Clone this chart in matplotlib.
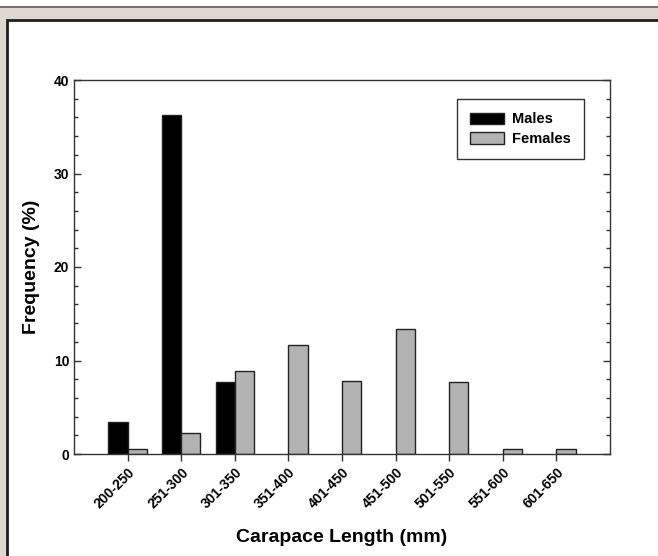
import numpy as np
import matplotlib.pyplot as plt
from matplotlib.patches import Rectangle
from matplotlib.ticker import MultipleLocator

plt.rcParams['font.family'] = ['Liberation Sans', 'DejaVu Sans']
plt.rcParams['font.weight'] = 'bold'

categories = ['200-250', '251-300', '301-350', '351-400', '401-450',
              '451-500', '501-550', '551-600', '601-650']
males = [3.4, 36.3, 7.7, 0, 0, 0, 0, 0, 0]
females = [0.5, 2.2, 8.9, 11.7, 7.8, 13.4, 7.7, 0.5, 0.5]

W, H = 658, 556
fig = plt.figure(figsize=(W / 100, H / 100), dpi=100)
fig.patch.set_facecolor('#ded7cf')

# khung nen phia sau
fig.add_artist(Rectangle((0, 1 - 6 / H), 1, 6 / H, transform=fig.transFigure,
                         facecolor='white', edgecolor='none', zorder=-3))
fig.add_artist(Rectangle((0, 1 - 8 / H), 1, 2 / H, transform=fig.transFigure,
                         facecolor='#7b7064', edgecolor='none', zorder=-3))
fig.add_artist(Rectangle((7 / W, -0.05), 1.1, 1.05 - 20 / H, transform=fig.transFigure,
                         facecolor='white', edgecolor='#1e1e1e', linewidth=2, zorder=-2))

ax = fig.add_axes([74 / W, 1 - 454 / H, (610 - 74) / W, (454 - 80) / H])
ax.set_facecolor('none')

x = np.arange(len(categories))
bw = 0.36
b1 = ax.bar(x - bw / 2, males, bw, color='black', edgecolor='#222222', linewidth=1, label='Males')
b2 = ax.bar(x + bw / 2, females, bw, color='#b3b3b3', edgecolor='#222222', linewidth=1, label='Females')
for p in list(b1) + list(b2):
    if p.get_height() == 0:
        p.set_visible(False)

ax.set_xlim(-1, 9)
ax.set_ylim(0, 40)
ax.yaxis.set_major_locator(MultipleLocator(10))
ax.yaxis.set_minor_locator(MultipleLocator(2))
ax.set_xticks(x)
ax.set_xticklabels(categories, rotation=45, ha='right', rotation_mode='anchor', fontsize=10)
ax.tick_params(axis='x', direction='out', length=5, width=1, color='#333333', pad=3)
ax.tick_params(axis='y', which='both', direction='in', right=True, labelsize=10, width=1,
               color='#333333')
ax.tick_params(axis='y', which='major', length=5)
ax.tick_params(axis='y', which='minor', length=3)
for s in ax.spines.values():
    s.set_color('#333333')
    s.set_linewidth(1)

ax.set_xlabel('Carapace Length (mm)', fontsize=14, fontweight='bold', labelpad=13)
ax.set_ylabel('Frequency (%)', fontsize=14, fontweight='bold', labelpad=10)

leg = ax.legend(loc='upper right', bbox_to_anchor=(0.952, 0.949), fancybox=False,
                edgecolor='#333333', framealpha=1, fontsize=10.5, borderpad=0.9,
                handlelength=2.3, handleheight=0.8, labelspacing=0.4, handletextpad=0.6,
                borderaxespad=0)
leg.get_frame().set_linewidth(1)

fig.savefig('out.png', dpi=100, facecolor=fig.get_facecolor())
